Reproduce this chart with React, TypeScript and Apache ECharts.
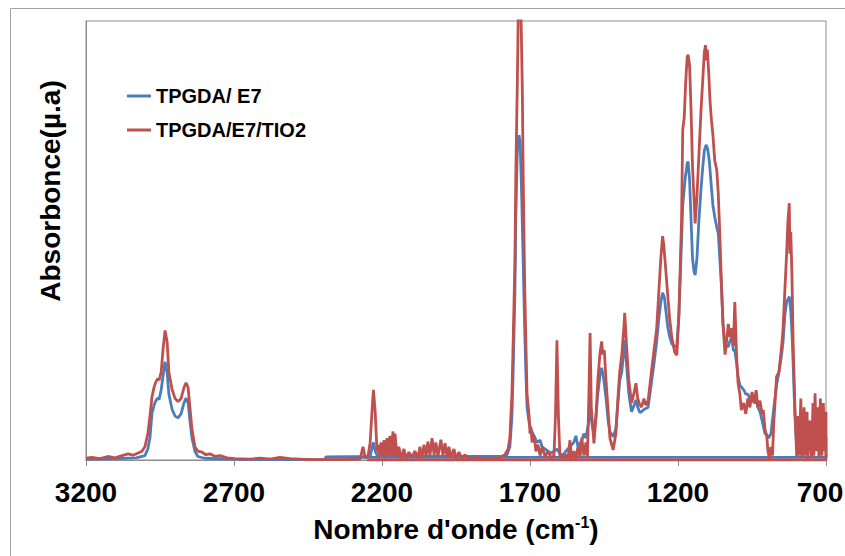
import React, { useEffect, useRef } from "react";
import * as echarts from "echarts";

// Wavenumber (cm-1) and absorbance (normalised)
const redWave = [3200,3180,3153,3126,3102,3078,3058,3041,3024,3011,3001,2991,2984,2977,2970,2964,2958,2953,2946,2940,2933,2926,2920,2909,2899,2889,2879,2869,2862,2855,2849,2842,2832,2822,2808,2795,2781,2764,2747,2723,2697,2646,2612,2578,2545,2511,2477,2443,2393,2325,2274,2264,2257,2247,2240,2233,2229,2223,2217,2213,2210,2203,2200,2193,2190,2183,2180,2173,2169,2163,2159,2156,2149,2143,2136,2126,2119,2109,2099,2089,2078,2072,2065,2058,2051,2045,2038,2031,2024,2018,2011,2001,1994,1987,1980,1974,1967,1957,1950,1940,1930,1920,1903,1876,1852,1828,1801,1785,1774,1768,1761,1757,1751,1748,1743,1740,1735,1730,1726,1723,1718,1714,1710,1703,1700,1697,1693,1686,1680,1673,1666,1659,1649,1639,1629,1619,1614,1609,1604,1599,1589,1579,1572,1565,1560,1552,1545,1538,1531,1525,1518,1511,1506,1501,1497,1493,1484,1477,1471,1464,1458,1454,1449,1443,1436,1430,1419,1410,1403,1397,1390,1383,1380,1373,1366,1357,1353,1348,1342,1336,1329,1323,1315,1309,1301,1295,1289,1281,1272,1265,1258,1252,1248,1241,1234,1228,1221,1211,1204,1197,1188,1184,1179,1174,1169,1166,1161,1156,1151,1142,1136,1129,1122,1116,1111,1107,1104,1101,1096,1092,1087,1082,1076,1069,1064,1058,1053,1048,1041,1036,1030,1025,1018,1013,1008,1002,997,991,986,978,971,964,957,950,943,936,930,923,916,912,906,900,896,891,886,881,876,867,859,850,845,839,833,829,824,822,819,815,811,805,799,795,791,785,781,774,771,764,761,754,749,744,741,737,732,727,724,719,714,709,704,700,700,2250];
const redAbs = [0.004,0.006,0.003,0.008,0.005,0.010,0.014,0.011,0.016,0.020,0.030,0.060,0.100,0.144,0.166,0.178,0.185,0.182,0.200,0.250,0.295,0.270,0.200,0.160,0.140,0.133,0.140,0.165,0.176,0.165,0.120,0.070,0.030,0.020,0.018,0.012,0.014,0.008,0.010,0.005,0.003,0.002,0.004,0.002,0.006,0.003,0.002,0.001,0.001,0.001,0.002,0.030,0.005,0.010,0.040,0.120,0.160,0.110,0.020,0.035,0.005,0.040,0.010,0.045,0.005,0.050,0.010,0.055,0.008,0.065,0.010,0.060,0.005,0.030,0.003,0.025,0.004,0.018,0.006,0.020,0.005,0.030,0.006,0.035,0.008,0.042,0.010,0.050,0.012,0.040,0.008,0.046,0.010,0.038,0.006,0.030,0.005,0.025,0.004,0.018,0.003,0.012,0.002,0.006,0.001,0.004,0.005,0.012,0.025,0.050,0.150,0.266,0.450,0.645,0.850,1.000,1.080,1.000,0.850,0.645,0.400,0.270,0.150,0.100,0.060,0.075,0.040,0.055,0.020,0.035,0.010,0.030,0.008,0.020,0.005,0.010,0.100,0.273,0.100,0.010,0.005,0.012,0.002,0.045,0.003,0.020,0.004,0.030,0.005,0.050,0.010,0.040,0.005,0.150,0.289,0.120,0.038,0.100,0.180,0.240,0.270,0.240,0.250,0.180,0.110,0.050,0.023,0.060,0.140,0.200,0.240,0.300,0.335,0.250,0.180,0.130,0.140,0.155,0.175,0.140,0.125,0.121,0.140,0.125,0.135,0.170,0.205,0.250,0.300,0.380,0.460,0.510,0.490,0.430,0.370,0.320,0.280,0.245,0.239,0.330,0.547,0.752,0.780,0.860,0.918,0.923,0.900,0.800,0.670,0.539,0.600,0.700,0.800,0.870,0.930,0.945,0.910,0.935,0.880,0.820,0.774,0.740,0.683,0.660,0.608,0.500,0.395,0.310,0.240,0.270,0.310,0.280,0.300,0.260,0.360,0.235,0.175,0.150,0.114,0.130,0.105,0.140,0.120,0.155,0.130,0.159,0.120,0.135,0.105,0.114,0.070,0.053,0.020,0.003,0.030,0.010,0.090,0.190,0.200,0.258,0.300,0.387,0.470,0.540,0.585,0.470,0.520,0.420,0.266,0.120,0.008,0.100,0.010,0.140,0.005,0.120,0.010,0.110,0.003,0.090,0.005,0.130,0.010,0.152,0.020,0.120,0.005,0.140,0.010,0.130,0.020,0.110,0.000,0.000];

const blueWave = [3200,3100,3030,3001,2991,2984,2977,2970,2964,2958,2953,2946,2940,2933,2926,2920,2909,2899,2889,2879,2869,2862,2855,2849,2842,2832,2822,2800,2700,2500,2392,2390,2240,2233,2229,2223,2215,1780,1768,1761,1757,1751,1748,1743,1737,1733,1728,1723,1718,1714,1710,1703,1697,1690,1683,1676,1666,1659,1649,1639,1629,1619,1609,1599,1589,1579,1565,1552,1545,1538,1525,1518,1511,1501,1497,1490,1484,1477,1471,1464,1458,1452,1443,1436,1430,1419,1410,1403,1397,1390,1383,1380,1373,1366,1357,1348,1342,1336,1329,1323,1315,1301,1289,1281,1272,1265,1258,1252,1246,1241,1234,1228,1221,1211,1204,1197,1188,1184,1176,1169,1166,1161,1156,1151,1146,1142,1136,1129,1122,1116,1111,1105,1100,1094,1087,1082,1076,1069,1064,1058,1053,1048,1041,1036,1030,1025,1018,1013,1008,1002,997,991,984,978,971,964,957,950,943,936,930,923,916,906,900,894,886,881,876,867,859,850,845,839,833,829,824,819,815,811,805,799,795,785,775,765,755,745,735,725,715,705,700,700,2390];
const blueAbs = [0.002,0.003,0.005,0.010,0.025,0.050,0.107,0.125,0.135,0.141,0.138,0.160,0.190,0.224,0.200,0.150,0.115,0.100,0.096,0.105,0.130,0.141,0.130,0.090,0.050,0.020,0.008,0.004,0.002,0.001,0.001,0.007,0.008,0.030,0.040,0.020,0.008,0.008,0.030,0.100,0.200,0.380,0.550,0.700,0.740,0.720,0.600,0.450,0.300,0.200,0.120,0.085,0.070,0.060,0.050,0.040,0.045,0.030,0.025,0.020,0.015,0.020,0.025,0.015,0.010,0.020,0.030,0.040,0.055,0.030,0.045,0.060,0.050,0.090,0.120,0.080,0.060,0.100,0.150,0.190,0.210,0.190,0.140,0.090,0.065,0.053,0.070,0.130,0.180,0.200,0.250,0.273,0.210,0.150,0.110,0.125,0.137,0.120,0.108,0.110,0.115,0.120,0.180,0.220,0.270,0.320,0.360,0.381,0.370,0.340,0.300,0.280,0.265,0.258,0.260,0.330,0.500,0.580,0.640,0.675,0.680,0.640,0.550,0.460,0.430,0.421,0.460,0.550,0.620,0.670,0.705,0.718,0.710,0.680,0.620,0.580,0.554,0.530,0.517,0.450,0.395,0.310,0.260,0.260,0.258,0.270,0.280,0.250,0.250,0.220,0.190,0.170,0.165,0.160,0.150,0.150,0.140,0.145,0.130,0.135,0.120,0.110,0.090,0.060,0.057,0.050,0.060,0.090,0.120,0.170,0.200,0.240,0.270,0.330,0.360,0.365,0.372,0.340,0.290,0.220,0.100,0.030,0.040,0.060,0.050,0.080,0.040,0.060,0.050,0.070,0.040,0.060,0.050,0.006,0.006];

const xTicks = [700, 1200, 1700, 2200, 2700, 3200];
const seriesNames = ["TPGDA/ E7", "TPGDA/E7/TIO2"];

const FONT = "'Liberation Sans', Arial, sans-serif";

export default function App() {
  const ref = useRef<HTMLDivElement>(null);
  useEffect(() => {
    if (!ref.current) return;
    const chart = echarts.init(ref.current, null, { renderer: "svg" });
    const pairs = (xs: number[], ys: number[]) => xs.map((x, i) => [x, ys[i]]);
    const tickText = { fontFamily: FONT, fontWeight: "bold", fontSize: 28, color: "#000" };
    chart.setOption({
      animation: false,
      backgroundColor: "#ffffff",
      grid: {
        left: 86,
        right: 19,
        top: 21,
        bottom: 96,
        show: true,
        borderColor: "#8c8c8c",
        borderWidth: 1,
        containLabel: false,
        outerBoundsMode: "none",
      },
      legend: {
        orient: "vertical",
        left: 122,
        top: 81,
        itemWidth: 24,
        itemHeight: 3,
        itemGap: 14,
        icon: "rect",
        data: seriesNames,
        textStyle: { fontFamily: FONT, fontWeight: "bold", fontSize: 20, color: "#000" },
      },
      xAxis: {
        type: "value",
        inverse: true,
        min: xTicks[0],
        max: xTicks[xTicks.length - 1],
        interval: 500,
        axisLine: { show: true, lineStyle: { color: "#8c8c8c", width: 1 } },
        axisTick: { show: true, length: 6, lineStyle: { color: "#8c8c8c" } },
        splitLine: { show: false },
        axisLabel: {
          margin: 18,
          ...tickText,
          formatter: (v: number) => (v === xTicks[0] ? "{e|" + v + "}" : String(v)),
          rich: { e: { ...tickText, padding: [0, 12, 0, 0] } },
        },
        name: "{a|Nombre d'onde (cm}{s|-1}{a|)}",
        nameLocation: "middle",
        nameGap: 53,
        nameTextStyle: {
          rich: {
            a: { fontFamily: FONT, fontWeight: "bold", fontSize: 28, color: "#000", lineHeight: 32 },
            s: { fontFamily: FONT, fontWeight: "bold", fontSize: 16, color: "#000", padding: [0, 0, 13, 0], lineHeight: 32 },
          },
        },
      },
      yAxis: {
        type: "value",
        min: 0,
        max: 1,
        axisLine: { show: true, lineStyle: { color: "#8c8c8c", width: 1 } },
        axisTick: { show: false },
        axisLabel: { show: false },
        splitLine: { show: false },
      },
      graphic: [
        {
          type: "rect",
          shape: { x: 10.5, y: 8.5, width: 900, height: 600 },
          style: { fill: "none", stroke: "#a6a6a6", lineWidth: 1 },
          silent: true,
        },
        {
          type: "text",
          x: 50,
          y: 191,
          rotation: Math.PI / 2,
          style: {
            text: "Absorbonce(µ.a)",
            fontFamily: FONT,
            fontWeight: "bold",
            fontSize: 28,
            fill: "#000",
            textAlign: "center",
            textVerticalAlign: "middle",
          },
        },
      ],
      series: [
        {
          name: seriesNames[0],
          type: "line",
          data: pairs(blueWave, blueAbs),
          showSymbol: false,
          symbol: "none",
          lineStyle: { color: "#4a7ebb", width: 2.8 },
          itemStyle: { color: "#4a7ebb" },
          z: 2,
        },
        {
          name: seriesNames[1],
          type: "line",
          data: pairs(redWave, redAbs),
          showSymbol: false,
          symbol: "none",
          lineStyle: { color: "#c0504d", width: 2.8 },
          itemStyle: { color: "#c0504d" },
          z: 3,
        },
      ],
    });
    return () => chart.dispose();
  }, []);
  return <div ref={ref} style={{ position: "fixed", left: 0, top: 0, width: 845, height: 556 }} />;
}
